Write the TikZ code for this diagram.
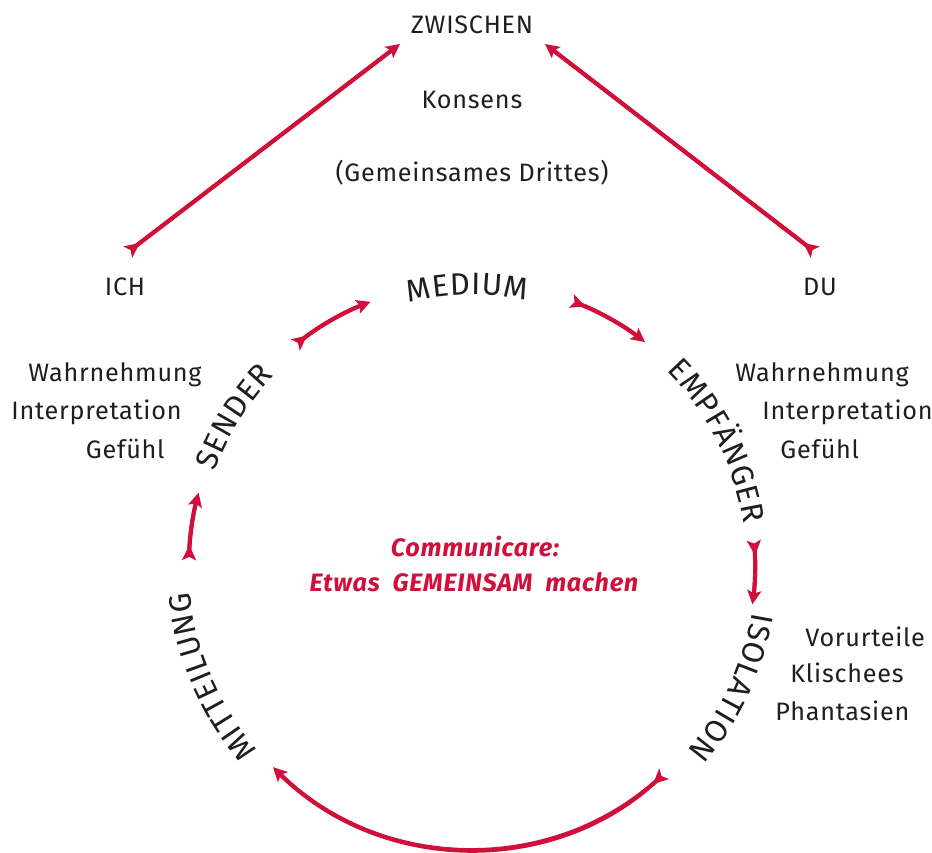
\documentclass[tikz,border=0pt]{standalone}
\usepackage{fontspec}
\setmainfont{Fira Sans}[LetterSpace=3]
\usetikzlibrary{arrows.meta,decorations.text}
\definecolor{signal}{HTML}{D0103A}
\definecolor{ink}{HTML}{1E1E1E}
\newcommand\ringfont{\fontsize{15.5}{17}\selectfont}

\tikzset{
  redarrow/.style={draw=signal, line width=2pt,
    {Stealth[reversed,length=7.5pt,width=7pt,inset=1.6pt]}-{Stealth[length=7pt,width=7pt,inset=1.5pt]},
    preaction={draw=signal, line width=2pt, arrows=-, shorten <=2.5pt, shorten >=4pt}},
  word/.style={font=\fontsize{12.6}{15}\selectfont, text=ink},
  note/.style={word, inner xsep=0pt},
  motto/.style={font=\fontsize{12.6}{14}\selectfont\bfseries\itshape, text=signal}
}

\begin{document}
\begin{tikzpicture}[x=0.5pt,y=0.5pt]
  \useasboundingbox (0,0) rectangle (932,852);
  \coordinate (ctr) at (472,286);

  % triangle ICH - ZWISCHEN - DU
  \node[word] (zwischen) at (472,827) {ZWISCHEN};
  \node[word] (konsens) at (472,752) {Konsens};
  \node[word] (drittes) at (472,679) {(Gemeinsames Drittes)};
  \node[word] (ich) at (125,565) {ICH};
  \node[word] (du) at (820,565) {DU};
  \coordinate (ichtail) at (128,600);
  \coordinate (ichhead) at (400,808);
  \coordinate (dutail) at (815,600);
  \coordinate (duhead) at (545,808);
  \draw[redarrow] (ichtail) -- (ichhead);
  \draw[redarrow] (dutail) -- (duhead);

  % side notes
  \node[note, anchor=east] (wahrL) at (202,477) {Wahrnehmung};
  \node[note, anchor=east] (interL) at (182,440) {Interpretation};
  \node[note, anchor=east] (gefL) at (165,403) {Gefühl};
  \node[note, anchor=west] (wahrR) at (735,477) {Wahrnehmung};
  \node[note, anchor=west] (interR) at (762,440) {Interpretation};
  \node[note, anchor=west] (gefR) at (780,403) {Gefühl};
  \node[note, anchor=west] (vorurt) at (805,215) {Vorurteile};
  \node[note, anchor=west] (klisch) at (790,179) {Klischees};
  \node[note, anchor=west] (phant) at (775,141) {Phantasien};

  % centre
  \node[motto] (commu) at (475,305) {Communicare:};
  \node[motto] (gemein) at (474,270) {Etwas~~GEMEINSAM~~machen};

  % words on the ring
  \foreach \ang/\rad/\ringlab in {91/271/MEDIUM, 27/275/EMPFÄNGER, -25/284/ISOLATION,
                                  203/283/MITTEILUNG, 148/274/SENDER}{
    \path[font=\ringfont, decorate, decoration={text effects along path, text align=center,
        text/.expanded=\ringlab,
        text effects/.cd, characters={text along path, text=ink, font=\ringfont},
        character widths={font=\ringfont, inner xsep=0.2pt}}]
      ([shift={(ctr)}]{\ang+40}:\rad) arc[start angle=\ang+40, end angle=\ang-40, radius=\rad];
  }

  % arrows on the ring
  \foreach \a/\b in {128.6/111, 69.4/52.3, 5.2/-7.8, -47.3/-134.7, 178.8/165}
    \draw[redarrow] ([shift={(ctr)}]\a:283) arc[start angle=\a, end angle=\b, radius=283];
\end{tikzpicture}
\end{document}
